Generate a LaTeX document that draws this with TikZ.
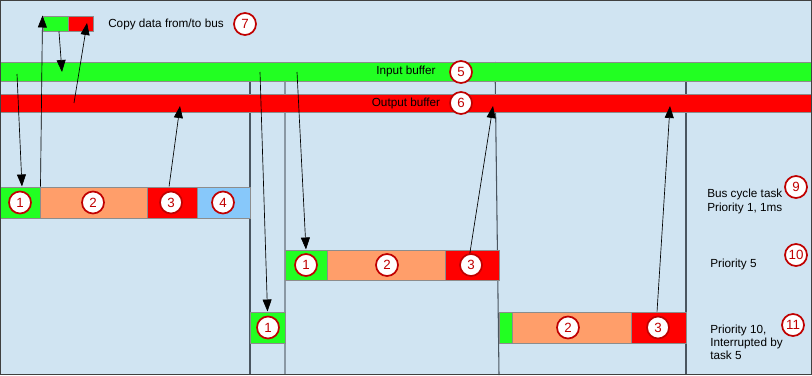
\documentclass[tikz,border=0pt]{standalone}
\usepackage{fontspec}
\setmainfont{Liberation Sans}
\usetikzlibrary{arrows.meta}
\definecolor{bg}{HTML}{D0E4F2}
\definecolor{grn}{HTML}{22FF22}
\definecolor{rd}{HTML}{FF0000}
\definecolor{org}{HTML}{FF9E6A}
\definecolor{blu}{HTML}{87C8FA}
\definecolor{edgec}{HTML}{8C8C8C}
\definecolor{ring}{HTML}{C00000}
\definecolor{vdark}{HTML}{4A5560}
\definecolor{vlight}{HTML}{8A98A4}
\begin{document}
\begin{tikzpicture}[x=0.75pt,y=-0.75pt,
  blk/.style={draw=edgec, line width=0.75pt, inner sep=0pt},
  num/.style={circle, draw=ring, line width=1.3pt, fill=white, minimum size=16.5pt, inner sep=0pt, text=ring, font=\fontsize{10}{10}\selectfont},
  lbl/.style={font=\fontsize{8.8}{9.9}\selectfont, text=black, inner sep=0pt, align=left},
  arr/.style={-{Triangle[length=9pt,width=6.75pt]}, line width=0.5pt, black},
  vl/.style={draw=vdark, line width=0.8pt}]
% background and frame
\fill[bg] (0,0) rectangle (812,375);
\useasboundingbox (0,0) rectangle (812,375);
% vertical separators
\coordinate (v1t) at (250,62); \coordinate (v1b) at (250,375);
\coordinate (v2t) at (285,62); \coordinate (v2b) at (285,375);
\coordinate (v3t) at (495,62); \coordinate (v3b) at (499,375);
\coordinate (v4t) at (686,62); \coordinate (v4b) at (686,375);
\draw[vl] (v1t) -- (v1b);
\draw[vl, draw=vlight] (v2t) -- (v2b);
\draw[vl] (v3t) -- (v3b);
\draw[vl] (v4t) -- (v4b);
% buffers
\node[blk, fill=grn, minimum width=609pt, minimum height=14.25pt] (inbuf) at (406,71.5) {};
\node[blk, fill=rd, minimum width=609pt, minimum height=13.5pt] (outbuf) at (406,103) {};
\node[lbl] (intxt) at (406,71.5) {Input buffer};
\node[lbl] (outtxt) at (406,103) {Output buffer};
\node[num] (c5) at (461,72) {5};
\node[num] (c6) at (461,103) {6};
% small copy boxes
\node[blk, fill=grn, minimum width=18.75pt, minimum height=11.25pt] (sg) at (55.5,23.5) {};
\node[blk, fill=rd, minimum width=18.75pt, minimum height=11.25pt] (sr) at (80.5,23.5) {};
\node[lbl, anchor=west] (copytxt) at (108,24) {Copy data from/to bus};
\node[num] (c7) at (245,24) {7};
% row 1
\node[blk, fill=grn, minimum width=30pt, minimum height=23.25pt] (r1g) at (20,202.5) {};
\node[blk, fill=org, minimum width=80.25pt, minimum height=23.25pt] (r1o) at (93.5,202.5) {};
\node[blk, fill=rd, minimum width=37.5pt, minimum height=23.25pt] (r1r) at (172,202.5) {};
\node[blk, fill=blu, minimum width=39.75pt, minimum height=23.25pt] (r1b) at (223.5,202.5) {};
% row 2
\node[blk, fill=grn, minimum width=31.5pt, minimum height=22.5pt] (r2g) at (306,265) {};
\node[blk, fill=org, minimum width=88.5pt, minimum height=22.5pt] (r2o) at (386,265) {};
\node[blk, fill=rd, minimum width=40.5pt, minimum height=22.5pt] (r2r) at (472,265) {};
% row 3
\node[blk, fill=grn, minimum width=26.25pt, minimum height=23.25pt] (r3g) at (267.5,327.5) {};
\node[blk, fill=grn, minimum width=9.75pt, minimum height=23.25pt] (r3h) at (505.5,327.5) {};
\node[blk, fill=org, minimum width=89.25pt, minimum height=23.25pt] (r3o) at (571.5,327.5) {};
\node[blk, fill=rd, minimum width=41.25pt, minimum height=23.25pt] (r3r) at (658.5,327.5) {};
% connector end points on buffers
\coordinate (ibA) at (17,74);
\coordinate (ibB) at (62,72);
\coordinate (obA) at (74,103);
\coordinate (obB) at (180,106);
\coordinate (ibC) at (260,72);
\coordinate (ibD) at (297,72);
\coordinate (obC) at (493,106);
\coordinate (obD) at (670,106);
% arrows
\draw[arr] (ibA) -- ([xshift=1.5pt]r1g.north);
\draw[arr] (r1g.north east) -- (sg.north west);
\draw[arr] ([xshift=2.6pt]sg.south) -- (ibB);
\draw[arr] (obA) -- ([xshift=4.9pt,yshift=0.4pt]sr.center);
\draw[arr] ([xshift=-2.2pt]r1r.north) -- (obB);
\draw[arr] (ibC) -- (r3g.north);
\draw[arr] (ibD) -- (r2g.north);
\draw[arr] ([xshift=-3pt]r2r.center) -- (obC);
\draw[arr] ([xshift=-1.1pt]r3r.north) -- (obD);
% numbered circles
\node[num] (n11) at (20,202.5) {1};
\node[num] (n12) at (93,202.5) {2};
\node[num] (n13) at (171,202.5) {3};
\node[num] (n14) at (223,202.5) {4};
\node[num] (n21) at (306,265) {1};
\node[num] (n22) at (387,265) {2};
\node[num] (n23) at (471,265) {3};
\node[num] (n31) at (268,327.5) {1};
\node[num] (n32) at (568,327.5) {2};
\node[num] (n33) at (658,327.5) {3};
% task labels
\node[lbl, anchor=west] (t1) at (707,201.5) {Bus cycle task\\Priority 1, 1ms};
\node[num] (c9) at (796,187) {9};
\node[lbl, anchor=west] (t2) at (710,264) {Priority 5};
\node[num] (c10) at (796,255) {10};
\node[lbl, anchor=west] (t3) at (710,342.5) {Priority 10,\\Interrupted by\\task 5};
\node[num] (c11) at (793,325) {11};
% frame
\draw[draw=black!75, line width=0.9pt] (0.5,0.5) rectangle (811.5,374.5);
\end{tikzpicture}
\end{document}
